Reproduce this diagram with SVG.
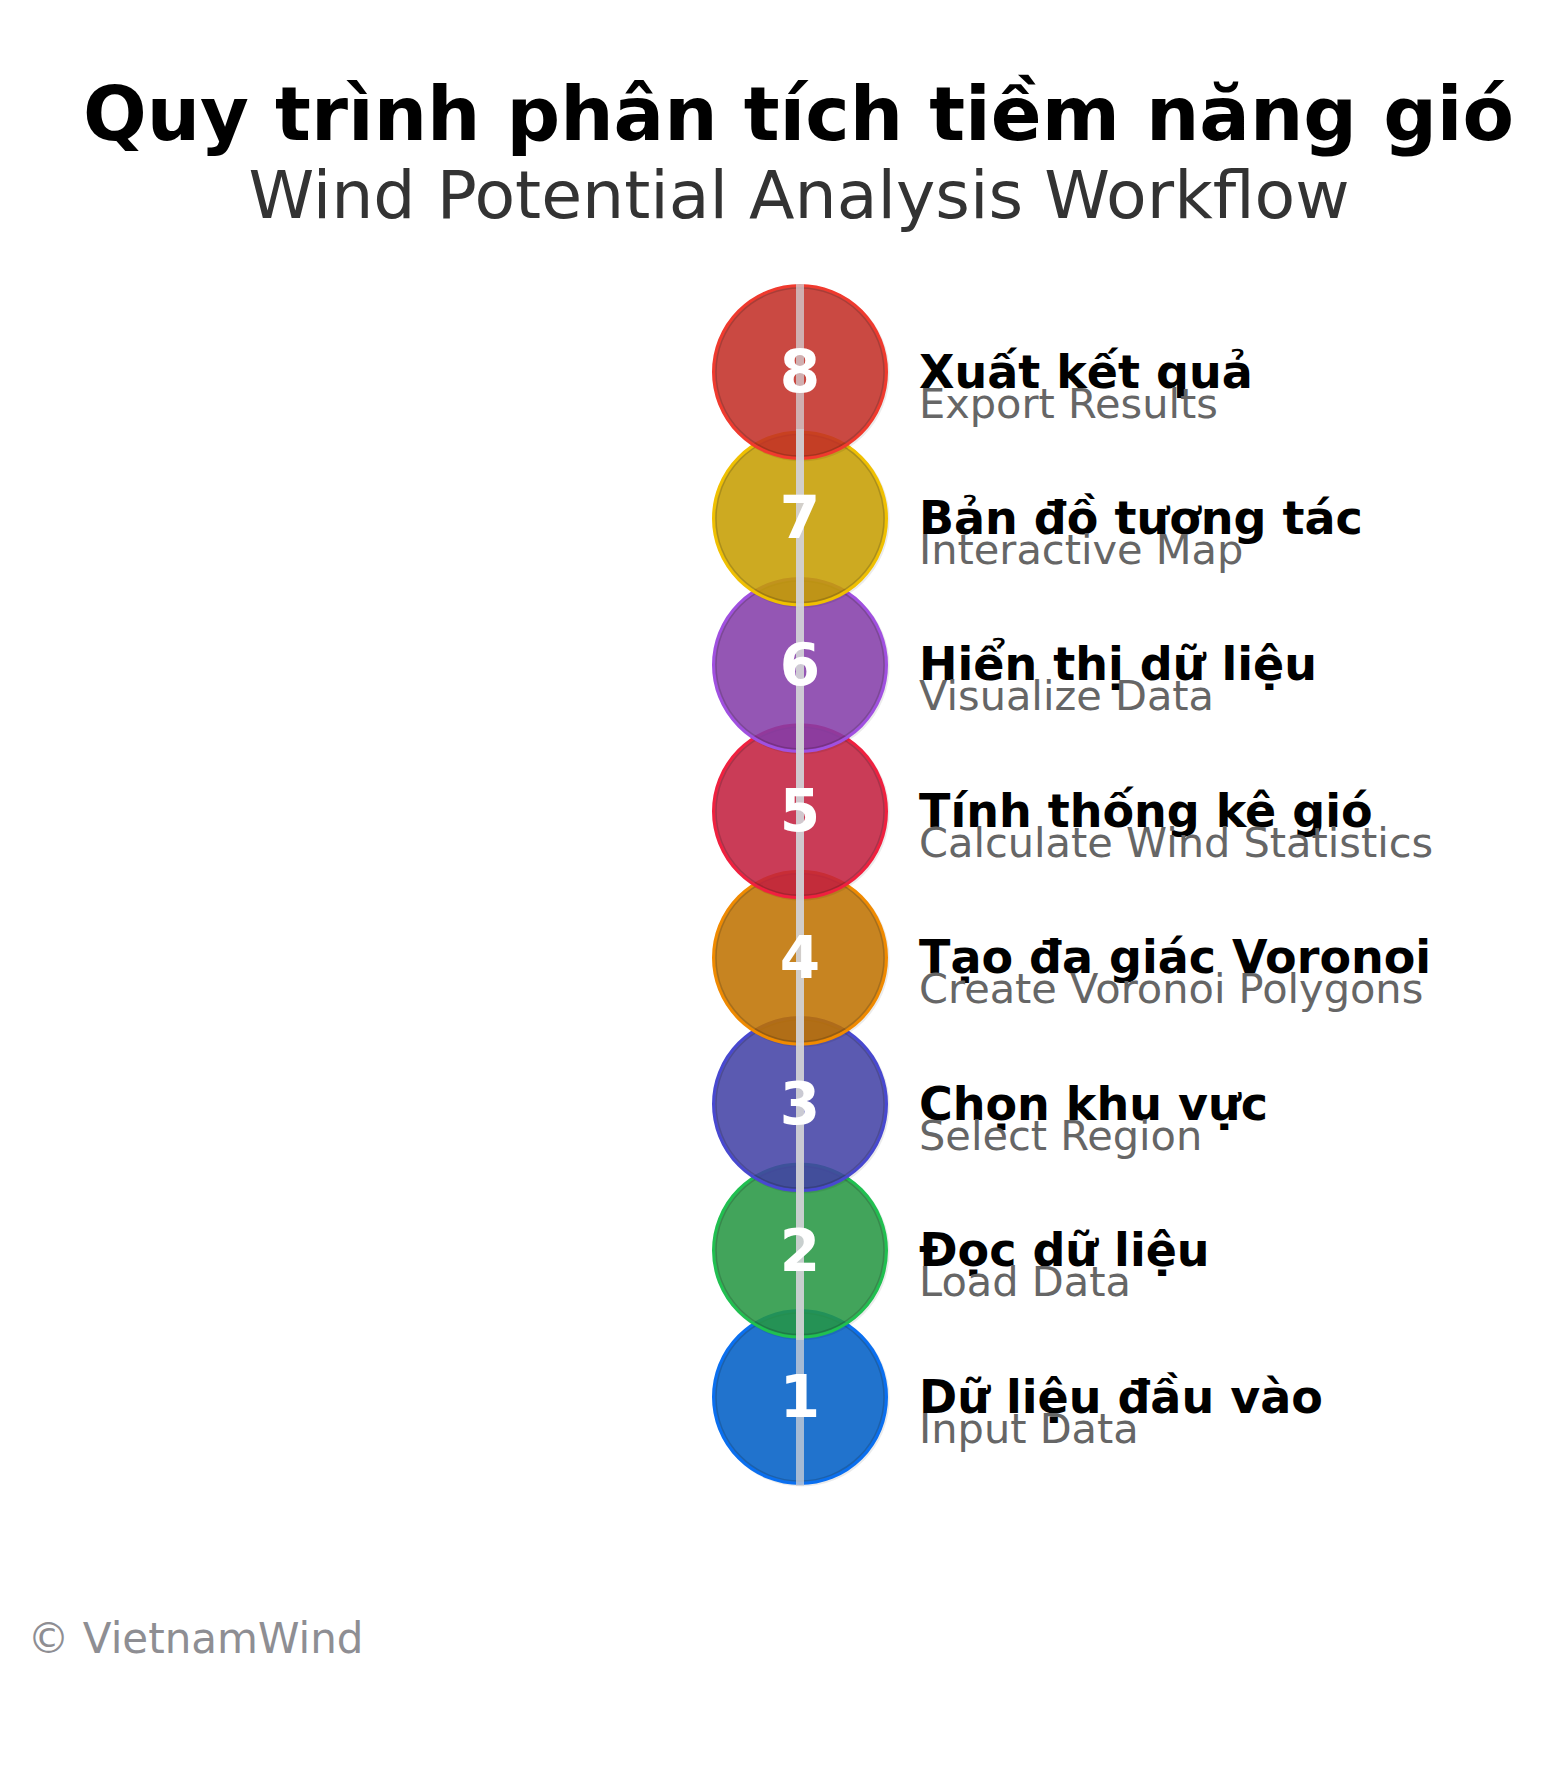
<svg xmlns="http://www.w3.org/2000/svg" width="1544" height="1770" viewBox="0 0 1544 1770">
<style>
text{font-family:"DejaVu Sans","Liberation Sans",sans-serif}
.title{font-size:75px;font-weight:bold;fill:#000;text-anchor:middle}
.sub{font-size:66.5px;fill:#333;text-anchor:middle}
.num{font-size:58px;font-weight:bold;fill:#fff;text-anchor:middle}
.lbl{font-size:46px;font-weight:bold;fill:#000}
.en{font-size:41.5px;fill:#666}
.foot{font-size:42px;fill:#8e8e93}
.shadow{fill:#000;opacity:0.08}
.disc{stroke-width:3;fill-opacity:0.86}
.inner{fill:none;stroke:#000;stroke-opacity:0.16;stroke-width:1.5}
.conn{stroke:#d2d2d6;stroke-opacity:0.75;stroke-width:8;fill:none}
</style>
<rect width="1544" height="1770" fill="#fff"/>
<text class="title" x="798.5" y="140">Quy trình phân tích tiềm năng gió</text>
<text class="sub" x="799" y="218">Wind Potential Analysis Workflow</text>

<g id="step-1">
<circle class="shadow" cx="801.5" cy="1398.5" r="88"/>
<circle class="disc" cx="800" cy="1397" r="86.5" fill="#005fc8" stroke="#0a6ff0"/>
<circle class="inner" cx="800" cy="1397" r="84"/>
<text class="lbl" x="919" y="1412.5">Dữ liệu đầu vào</text>
<text class="en" x="919" y="1442.5">Input Data</text>
</g>
<g id="step-2">
<circle class="shadow" cx="801.5" cy="1252.1" r="88"/>
<circle class="disc" cx="800" cy="1250.6" r="86.5" fill="#279844" stroke="#20c050"/>
<circle class="inner" cx="800" cy="1250.6" r="84"/>
<text class="lbl" x="919" y="1266.1">Đọc dữ liệu</text>
<text class="en" x="919" y="1296.1">Load Data</text>
</g>
<g id="step-3">
<circle class="shadow" cx="801.5" cy="1105.6" r="88"/>
<circle class="disc" cx="800" cy="1104.1" r="86.5" fill="#4342a8" stroke="#4848d0"/>
<circle class="inner" cx="800" cy="1104.1" r="84"/>
<text class="lbl" x="919" y="1119.6">Chọn khu vực</text>
<text class="en" x="919" y="1149.6">Select Region</text>
</g>
<g id="step-4">
<circle class="shadow" cx="801.5" cy="959.2" r="88"/>
<circle class="disc" cx="800" cy="957.7" r="86.5" fill="#c17300" stroke="#f08a00"/>
<circle class="inner" cx="800" cy="957.7" r="84"/>
<text class="lbl" x="919" y="973.2">Tạo đa giác Voronoi</text>
<text class="en" x="919" y="1003.2">Create Voronoi Polygons</text>
</g>
<g id="step-5">
<circle class="shadow" cx="801.5" cy="812.8" r="88"/>
<circle class="disc" cx="800" cy="811.3" r="86.5" fill="#c51f3f" stroke="#f0203f"/>
<circle class="inner" cx="800" cy="811.3" r="84"/>
<text class="lbl" x="919" y="826.8">Tính thống kê gió</text>
<text class="en" x="919" y="856.8">Calculate Wind Statistics</text>
</g>
<g id="step-6">
<circle class="shadow" cx="801.5" cy="666.4" r="88"/>
<circle class="disc" cx="800" cy="664.9" r="86.5" fill="#863eab" stroke="#a050e0"/>
<circle class="inner" cx="800" cy="664.9" r="84"/>
<text class="lbl" x="919" y="680.4">Hiển thị dữ liệu</text>
<text class="en" x="919" y="710.4">Visualize Data</text>
</g>
<g id="step-7">
<circle class="shadow" cx="801.5" cy="519.9" r="88"/>
<circle class="disc" cx="800" cy="518.4" r="86.5" fill="#c8a000" stroke="#f0c000"/>
<circle class="inner" cx="800" cy="518.4" r="84"/>
<text class="lbl" x="919" y="533.9">Bản đồ tương tác</text>
<text class="en" x="919" y="563.9">Interactive Map</text>
</g>
<g id="step-8">
<circle class="shadow" cx="801.5" cy="373.5" r="88"/>
<circle class="disc" cx="800" cy="372" r="86.5" fill="#c52e27" stroke="#f03a2e"/>
<circle class="inner" cx="800" cy="372" r="84"/>
<text class="lbl" x="919" y="387.5">Xuất kết quả</text>
<text class="en" x="919" y="417.5">Export Results</text>
</g>

<g id="connectors">
<line class="conn" x1="800" y1="284" x2="800" y2="1486"/>
<line class="conn" x1="800" y1="429" x2="800" y2="1340"/>
</g>

<g id="step-numbers">
<text class="num" id="num-1" x="800" y="1417">1</text>
<text class="num" id="num-2" x="800" y="1270.6">2</text>
<text class="num" id="num-3" x="800" y="1124.1">3</text>
<text class="num" id="num-4" x="800" y="977.7">4</text>
<text class="num" id="num-5" x="800" y="831.3">5</text>
<text class="num" id="num-6" x="800" y="684.9">6</text>
<text class="num" id="num-7" x="800" y="538.4">7</text>
<text class="num" id="num-8" x="800" y="392">8</text>
</g>

<text class="foot" x="27.5" y="1653">© VietnamWind</text>
</svg>
